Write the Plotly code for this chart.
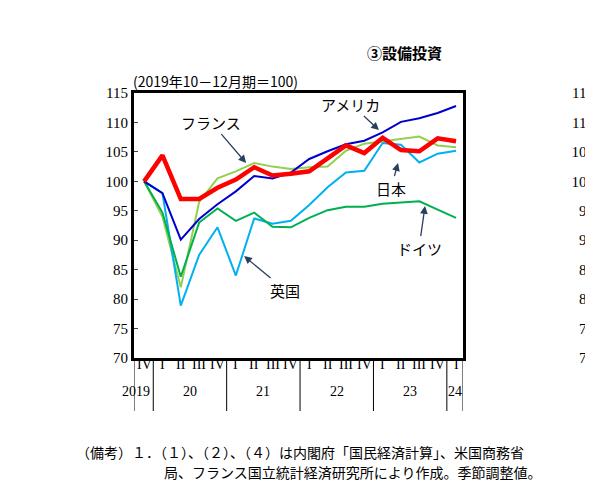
import plotly.graph_objects as go

quarters = ["IV", "I", "II", "III", "IV", "I", "II", "III", "IV", "I", "II", "III", "IV", "I", "II", "III", "IV", "I"]
years = ["2019", "20", "21", "22", "23", "24"]
year_pos = [-0.45, 2.5, 6.5, 10.5, 14.5, 16.95]

japan = [100, 104.4, 97, 97, 98.9, 100.3, 102.4, 101, 101.3, 101.7, 103.9, 106.1, 104.8, 107.4, 105.3, 105.1, 107.3, 106.8]
usa = [100, 98, 90.1, 93.6, 96.1, 98.3, 100.9, 100.5, 101.5, 103.8, 105.1, 106.3, 106.9, 108.3, 110.1, 110.7, 111.6, 112.8]
france = [100, 94, 82, 96.5, 100.5, 101.7, 103.1, 102.5, 102.1, 102.4, 102.5, 105.2, 106.4, 106.8, 107.3, 107.6, 106.1, 105.8]
uk = [100, 98, 78.9, 87.5, 92.2, 84, 93.7, 92.8, 93.3, 96, 99, 101.5, 101.8, 106.5, 106.2, 103.2, 104.7, 105.2]
germany = [100, 94.7, 83.8, 93, 95.4, 93.3, 94.7, 92.3, 92.2, 93.8, 95.1, 95.7, 95.7, 96.2, 96.4, 96.6, 95.2, 93.8]

x = list(range(len(quarters)))
font = "Noto Sans CJK JP"
serif = "Liberation Serif"

fig = go.Figure()
for ys, col, w in [(france, "#92d050", 2), (uk, "#00b0f0", 2), (germany, "#00b050", 2),
                   (usa, "#0000cc", 2), (japan, "#ff0000", 4.5)]:
    fig.add_trace(go.Scatter(x=x, y=ys, mode="lines", line=dict(color=col, width=w), showlegend=False))
# right-hand axis of the neighbouring chart
fig.add_trace(go.Scatter(x=[None], y=[None], yaxis="y2", showlegend=False))

fig.update_layout(
    width=593, height=485, plot_bgcolor="white", paper_bgcolor="white",
    margin=dict(l=126, r=0, t=85, b=135),
    font=dict(family=font, size=14, color="black"),
    xaxis=dict(domain=[0, 0.7045], range=[-0.55, 17.38], showticklabels=False, ticks="",
               showgrid=False, zeroline=False, showline=True, linecolor="black",
               linewidth=3, mirror=True),
    yaxis=dict(range=[70, 115], dtick=5, ticks="inside", ticklen=4, showgrid=False,
               zeroline=False, showline=True, linecolor="black", linewidth=3, mirror=True,
               tickfont=dict(family=serif, size=15)),
    yaxis2=dict(range=[70, 115], dtick=5, overlaying="y", anchor="free", position=0.985,
                side="left", showgrid=False, zeroline=False, showline=False,
                tickfont=dict(family=serif, size=15)),
)

ann = [
    dict(x=0.58, y=1.0, xref="paper", yref="paper", yanchor="bottom", yshift=28,
         text="<b>③設備投資</b>", showarrow=False, font=dict(size=15)),
    dict(x=0, y=1.0, xref="paper", yref="paper", xanchor="left", yanchor="bottom", xshift=-3,
         text="(2019年10－12月期＝100)", showarrow=False, font=dict(size=14)),
]
for lab, hx, hy, ax, ay in [("フランス", 5.56, 103.1, -35, -41), ("アメリカ", 12.8, 108.7, -28, -26),
                            ("日本", 13.84, 103.1, -7, 25), ("ドイツ", 15.31, 95.8, -6, 42),
                            ("英国", 5.45, 87.3, 41, 34)]:
    ann.append(dict(x=hx, y=hy, text=lab, ax=ax, ay=ay, showarrow=True, arrowhead=2,
                    arrowwidth=1.3, arrowsize=1.2, font=dict(size=15)))
for i, q in enumerate(quarters):
    ann.append(dict(x=i, y=0, yref="paper", yshift=-16, text=q, showarrow=False,
                    font=dict(family=serif, size=14)))
for p, yr in zip(year_pos, years):
    ann.append(dict(x=p, y=0, yref="paper", yshift=-43, text=yr, showarrow=False,
                    font=dict(family=serif, size=14)))
ann.append(dict(x=17.5, y=0, yref="paper", xanchor="left", xshift=10, yshift=-16,
                text="（期）", showarrow=False))
ann.append(dict(x=17.5, y=0, yref="paper", xanchor="left", xshift=10, yshift=-43,
                text="（年）", showarrow=False))
ann.append(dict(x=0, y=0, xref="paper", yref="paper", xanchor="left", xshift=-60, yshift=-106,
                text="（備考）１．（１）、（２）、（４）は内閣府「国民経済計算」、米国商務省",
                showarrow=False, font=dict(size=14)))
ann.append(dict(x=0, y=0, xref="paper", yref="paper", xanchor="left", xshift=28, yshift=-126,
                text="局、フランス国立統計経済研究所により作成。季節調整値。",
                showarrow=False, font=dict(size=14)))
fig.update_layout(annotations=ann)

for sx in [-0.55, 0.5, 4.5, 8.5, 12.5, 16.5, 17.38]:
    fig.add_shape(type="line", x0=sx, x1=sx, y0=0, y1=-0.2, xref="x", yref="paper",
                  line=dict(color="black", width=1))

fig.write_html("out.html")
